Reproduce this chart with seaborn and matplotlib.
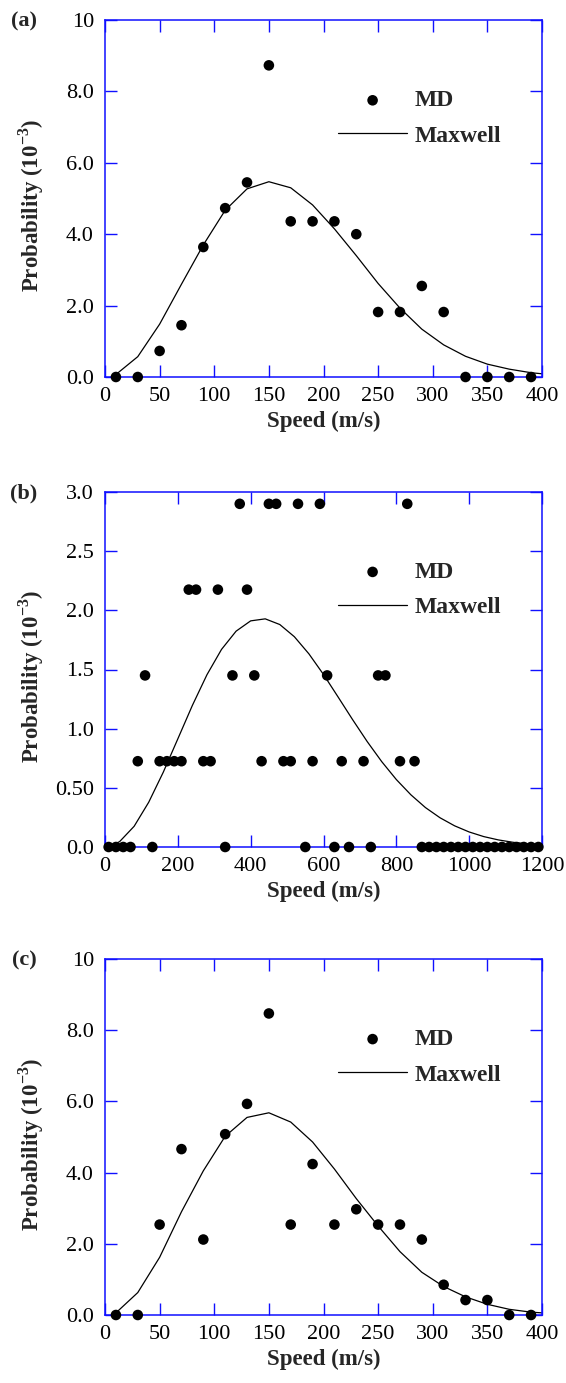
import matplotlib
matplotlib.use("Agg")
import matplotlib.pyplot as plt
import seaborn as sns
import pandas as pd

# ---------------- data ----------------
speed_a = [10, 30, 50, 70, 90, 110, 130, 150, 170, 190, 210, 230, 250, 270, 290, 310, 330, 350, 370, 390]
md_a = [0, 0, 0.73, 1.45, 3.64, 4.73, 5.45, 8.73, 4.36, 4.36, 4.36, 4.00, 1.82, 1.82, 2.55, 1.82, 0, 0, 0, 0]
max_speed_a = [10, 30, 50, 70, 90, 110, 130, 150, 170, 190, 210, 230, 250, 270, 290, 310, 330, 350, 370, 390, 410]
max_a = [0.07, 0.57, 1.48, 2.60, 3.70, 4.67, 5.27, 5.47, 5.30, 4.82, 4.15, 3.40, 2.62, 1.93, 1.34, 0.90, 0.58, 0.36, 0.22, 0.12, 0.06]

speed_b = [10, 30, 50, 70, 90, 110, 130, 150, 170, 190, 210, 230, 250, 270, 290, 310, 330, 350, 370, 390,
           410, 430, 450, 470, 490, 510, 530, 550, 570, 590, 610, 630, 650, 670, 690, 710, 730, 750, 770, 790,
           810, 830, 850, 870, 890, 910, 930, 950, 970, 990, 1010, 1030, 1050, 1070, 1090, 1110, 1130, 1150, 1170, 1190]
md_b = [0, 0, 0, 0, 0.725, 1.45, 0, 0.725, 0.725, 0.725, 0.725, 2.175, 2.175, 0.725, 0.725, 2.175, 0, 1.45, 2.9, 2.175,
        1.45, 0.725, 2.9, 2.9, 0.725, 0.725, 2.9, 0, 0.725, 2.9, 1.45, 0, 0.725, 0, 2.175, 0.725, 0, 1.45, 1.45, 2.175,
        0.725, 2.9, 0.725, 0, 0, 0, 0, 0, 0, 0, 0, 0, 0, 0, 0, 0, 0, 0, 0, 0]
max_speed_b = [10, 40, 80, 120, 160, 200, 240, 280, 320, 360, 400, 440, 480, 520, 560, 600, 640, 680, 720, 760,
               800, 840, 880, 920, 960, 1000, 1040, 1080, 1120, 1160, 1190]
max_b = [0.003, 0.045, 0.175, 0.378, 0.632, 0.914, 1.197, 1.456, 1.670, 1.824, 1.911, 1.928, 1.880, 1.777, 1.632,
         1.458, 1.268, 1.076, 0.891, 0.721, 0.570, 0.441, 0.333, 0.247, 0.179, 0.127, 0.088, 0.060, 0.040, 0.026, 0.019]

speed_c = [10, 30, 50, 70, 90, 110, 130, 150, 170, 190, 210, 230, 250, 270, 290, 310, 330, 350, 370, 390]
md_c = [0, 0, 2.54, 4.66, 2.12, 5.08, 5.93, 8.47, 2.54, 4.24, 2.54, 2.97, 2.54, 2.54, 2.12, 0.85, 0.42, 0.42, 0, 0]
max_speed_c = [10, 30, 50, 70, 90, 110, 130, 150, 170, 190, 210, 230, 250, 270, 290, 310, 330, 350, 370, 390, 410]
max_c = [0.06, 0.63, 1.62, 2.90, 4.05, 5.02, 5.55, 5.68, 5.42, 4.86, 4.10, 3.27, 2.50, 1.78, 1.20, 0.80, 0.51, 0.30, 0.16, 0.08, 0.04]

xticks_ac = [0, 50, 100, 150, 200, 250, 300, 350, 400]
xticks_b = [0, 200, 400, 600, 800, 1000, 1200]
yticks_ac = [0, 2, 4, 6, 8, 10]
ylabels_ac = ["0.0", "2.0", "4.0", "6.0", "8.0", "10"]
yticks_b = [0, 0.5, 1.0, 1.5, 2.0, 2.5, 3.0]
ylabels_b = ["0.0", "0.50", "1.0", "1.5", "2.0", "2.5", "3.0"]
panel_letters = ["(a)", "(b)", "(c)"]

# ---------------- style ----------------
sns.set_theme(style="white")
plt.rcParams["font.family"] = ["Liberation Serif", "DejaVu Serif"]
plt.rcParams["mathtext.fontset"] = "custom"
plt.rcParams["mathtext.rm"] = "Liberation Serif"
plt.rcParams["mathtext.bf"] = "Liberation Serif:bold"

W, H = 566, 1383
fig = plt.figure(figsize=(W / 100, H / 100), dpi=100)
left_px, right_px = 105, 542
tops = [20, 492, 959]
bottoms = [377, 847, 1315]
AX_BLUE = "#1010ff"


def panel(top, bottom, speed, md, mspeed, mvals, xmax, xticks, yticks, ylabels, letter):
    ax = fig.add_axes([left_px / W, (H - bottom) / H, (right_px - left_px) / W, (bottom - top) / H])
    df_md = pd.DataFrame({"speed": speed, "p": md})
    df_mx = pd.DataFrame({"speed": mspeed, "p": mvals})
    sns.lineplot(data=df_mx, x="speed", y="p", ax=ax, color="black", lw=0.9,
                 label="Maxwell", estimator=None, sort=False, zorder=2)
    sns.scatterplot(data=df_md, x="speed", y="p", ax=ax, color="black", s=58,
                    edgecolor="none", label="MD", zorder=3, clip_on=False)
    ax.set_xlim(0, xmax)
    ax.set_ylim(0, yticks[-1])
    ax.set_xticks(xticks)
    ax.set_xticklabels([str(t) for t in xticks])
    ax.set_yticks(yticks)
    ax.set_yticklabels(ylabels)
    ax.tick_params(direction="in", length=8.5, width=1.0, color=AX_BLUE,
                   top=True, right=True, bottom=True, left=True, labelsize=16,
                   labelcolor="black")
    ax.tick_params(axis="x", pad=7)
    ax.tick_params(axis="y", pad=8)
    for sp in ax.spines.values():
        sp.set_color(AX_BLUE)
        sp.set_linewidth(1.1)
    ax.set_xlabel("Speed (m/s)", fontsize=16.5, fontweight="bold", labelpad=4)
    ax.set_ylabel(r"Probability (10$^{\mathbf{-3}}$)", fontsize=16.5, fontweight="bold")
    ax.yaxis.set_label_coords(-0.135, 0.48)
    handles, labels = ax.get_legend_handles_labels()
    order = [labels.index("MD"), labels.index("Maxwell")]
    leg = ax.legend([handles[i] for i in order], [labels[i] for i in order],
                    loc="upper left", bbox_to_anchor=(0.534, 0.804),
                    frameon=True, facecolor="white", edgecolor="none", framealpha=1,
                    borderpad=0.0, borderaxespad=0.0, handlelength=2.9,
                    handletextpad=0.35, labelspacing=0.58,
                    prop={"weight": "bold", "size": 17})
    leg.set_zorder(5)
    fig.text(24 / W, 1 - (top + 1) / H, letter, ha="center", va="center",
             fontsize=16, fontweight="bold")
    return ax


panel(tops[0], bottoms[0], speed_a, md_a, max_speed_a, max_a, 400, xticks_ac, yticks_ac, ylabels_ac, panel_letters[0])
panel(tops[1], bottoms[1], speed_b, md_b, max_speed_b, max_b, 1200, xticks_b, yticks_b, ylabels_b, panel_letters[1])
panel(tops[2], bottoms[2], speed_c, md_c, max_speed_c, max_c, 400, xticks_ac, yticks_ac, ylabels_ac, panel_letters[2])

fig.savefig("out.png", dpi=100)
